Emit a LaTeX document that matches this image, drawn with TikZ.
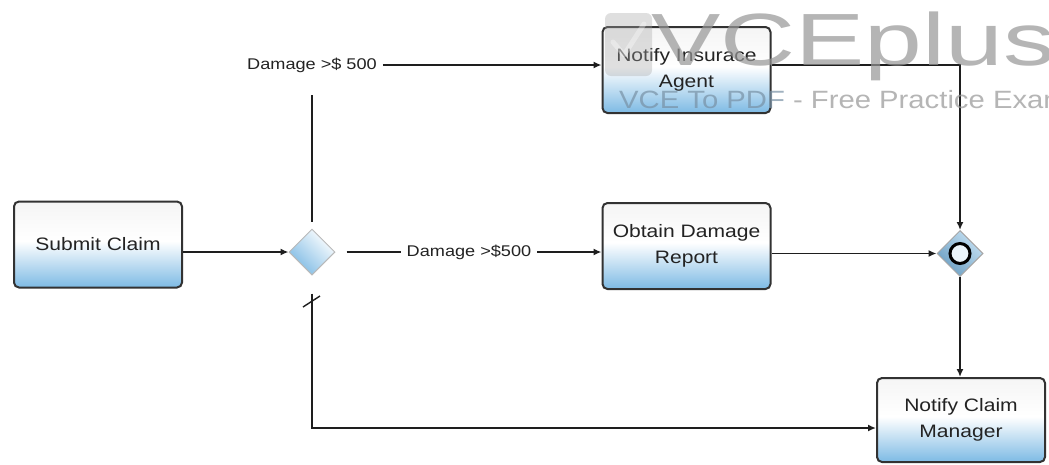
\documentclass[tikz,border=0pt]{standalone}
\usepackage{fontspec}
\setmainfont[FakeStretch=1.17]{Liberation Sans}
\usetikzlibrary{shapes.geometric,arrows.meta}
\definecolor{bpblue}{RGB}{125,186,228}
\definecolor{edgec}{RGB}{30,30,30}
\definecolor{boxline}{RGB}{50,50,50}
\definecolor{txt}{RGB}{35,35,35}
\definecolor{wmgray}{RGB}{150,150,150}
\definecolor{wmblue}{RGB}{120,145,165}
\pgfdeclareverticalshading{taskshade}{100bp}{color(0bp)=(bpblue); color(25bp)=(bpblue); color(52bp)=(white); color(75bp)=(white!96!black); color(100bp)=(white!96!black)}
\tikzset{
  task/.style={draw=boxline, line width=2pt, rounded corners=5pt, shading=taskshade,
    minimum width=168pt, minimum height=86pt, align=center,
    font=\fontsize{18}{26}\selectfont, text=txt, inner sep=0pt},
  flow/.style={draw=edgec, line width=1.8pt, -{Latex[length=8pt,width=7pt]}},
  plain/.style={draw=edgec, line width=1.8pt},
  lbl/.style={font=\fontsize{15.5}{18}\selectfont, text=txt, inner sep=6pt},
  gate/.style={diamond, draw=gray!55, line width=1pt, minimum width=46pt,
    minimum height=46pt, inner sep=0pt, shading=axis, shading angle=-45},
}
\begin{document}
\begin{tikzpicture}[x=1pt,y=-1pt]
\useasboundingbox (0,0) rectangle (1049,464);
\clip (0,0) rectangle (1049,464);
\fill[white] (0,0) rectangle (1049,464);

% tasks
\node[task] (sub) at (98,244.5) {Submit Claim};
\node[task] (ins) at (686.5,70) {Notify Insurace\\Agent};
\node[task] (obt) at (686.5,246) {Obtain Damage\\Report};
\node[task, minimum height=84pt] (mgr) at (961,420) {Notify Claim\\Manager};

% gateways
\node[gate, top color=white, bottom color=bpblue, shading angle=-45] (gw) at (312,252) {};
\node[gate, draw=gray!70, top color=white!55!bpblue, bottom color=bpblue!85!black, shading angle=-45] (mg) at (960,253.5) {};
\node[circle, draw=black, line width=3pt, fill=white!85!bpblue, minimum size=20pt, inner sep=0pt] (mgc) at (mg) {};

% labels
\node[lbl] (l1) at (312,65) {Damage >\$ 500};
\node[lbl] (l2) at (469,252) {Damage >\$500};
\coordinate (t1) at (312,95);
\coordinate (b1) at (312,428);

% connectors
\draw[flow] (sub.east |- gw.west) -- (gw.west);
\draw[plain, shorten <=7pt] (gw.north) -- (t1);
\draw[flow] (l1.east) -- (l1.east -| ins.west);
\draw[plain, shorten <=11pt] (gw.east) -- (l2.west);
\draw[flow] (l2.east) -- (l2.east -| obt.west);
\draw[flow] (l1 -| ins.east) -- (l1 -| mg.north) -- (mg.north);
\draw[flow] (obt.east |- mg.west) -- (mg.west);
\draw[flow] (mg.south) -- (mg.south |- mgr.north);
\draw[flow, shorten <=18pt] (gw.south) -- (b1) -- (b1 -| mgr.west);
\draw[plain, line width=1.4pt] (303,307) -- (320,296);

% watermark
\begin{scope}[opacity=0.35]
  \fill[gray!70, rounded corners=6pt] (605,13) rectangle (652,76);
  \draw[white, line width=5pt, line cap=round, line join=round] (613,42) -- (624,55) -- (644,24);
\end{scope}
\begin{scope}[opacity=0.7]
  \node[anchor=base west, inner sep=0pt, text=wmgray, font=\fontsize{74}{74}\selectfont] (wm1) at (651,65) {\scalebox{1.2}[1]{VCEplus}};
  \node[anchor=base west, inner sep=0pt, font=\fontsize{25}{25}\selectfont] (wm2) at (619,108) {\textcolor{wmblue}{VCE To PDF}~\textcolor{wmgray}{- Free Practice Exam}};
\end{scope}
\end{tikzpicture}
\end{document}
